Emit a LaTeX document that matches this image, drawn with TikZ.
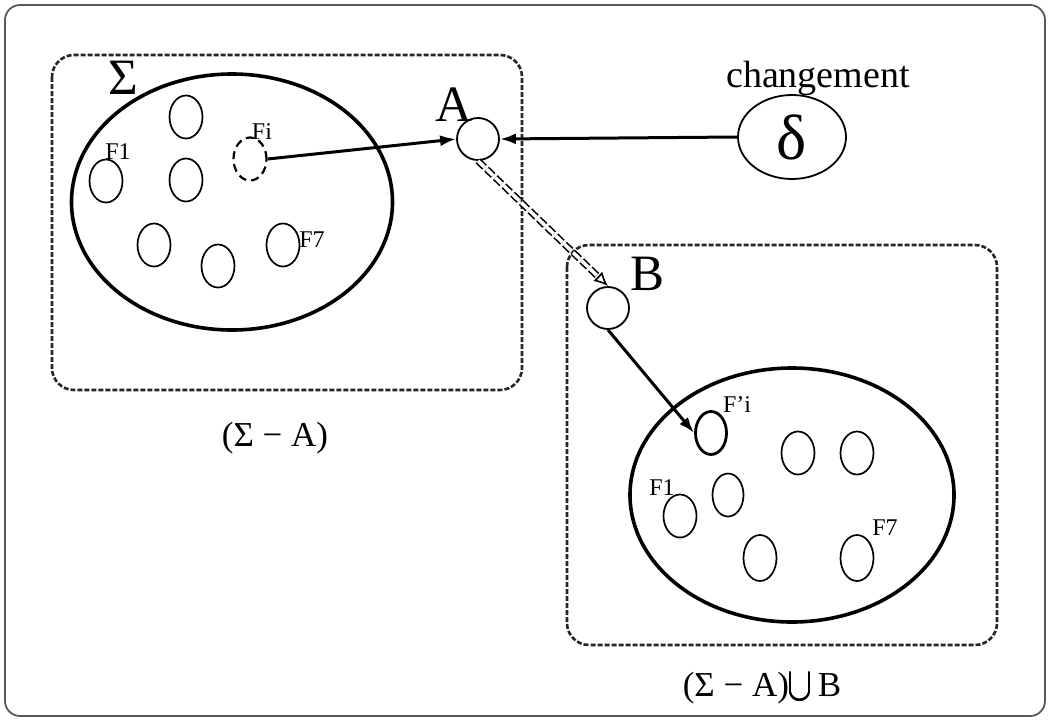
\documentclass[tikz,border=0pt]{standalone}
\usepackage{amsmath}
\usepackage{fontspec}
\setmainfont{Liberation Serif}
\usetikzlibrary{arrows.meta,shapes.geometric}
\tikzset{
  frame/.style={draw=black!65, line width=1.8pt, rounded corners=15pt},
  dbox/.style={draw=black!85, line width=2.6pt, dash pattern=on 5pt off 2pt, rounded corners=22pt},
  bigell/.style={ellipse, draw, line width=3.6pt, inner sep=0pt},
  smell/.style={ellipse, draw, line width=1.7pt, inner sep=0pt, minimum width=33pt, minimum height=43pt},
  circ/.style={circle, draw, line width=1.8pt, inner sep=0pt, minimum size=42pt},
  flab/.style={inner sep=0pt, font=\fontsize{24}{26}\selectfont},
  biglab/.style={inner sep=0pt, font=\fontsize{51}{53}\selectfont},
  caplab/.style={inner sep=0pt, font=\fontsize{35}{37}\selectfont},
  arr/.style={line width=3pt, -{Latex[length=16pt,width=11pt]}},
  hollow/.style={draw=black, line width=1.6pt, double=white, double distance=3.6pt, dash pattern=on 9pt off 3pt, -{Latex[open,length=14pt,width=13pt]}}
}
\begin{document}
\begin{tikzpicture}[x=1pt,y=-1pt]
\useasboundingbox (0,0) rectangle (1049,720);
\draw[frame] (5,5) rectangle (1045,716);
% left box
\draw[dbox] (52,55) rectangle (522,390);
\node[bigell, minimum width=321pt, minimum height=256pt] (sigma) at (232,202) {};
\node[biglab] (sigmalab) at (123,78) {Σ};
\node[smell] (l1) at (186,117) {};
\node[smell] (lf1) at (106,181) {};
\node[smell] (l2) at (186,180) {};
\node[smell, dash pattern=on 8pt off 5pt, line width=2.2pt] (lfi) at (250,159) {};
\node[smell] (l3) at (154,245) {};
\node[smell] (l4) at (218,266) {};
\node[smell] (lf7) at (283,245) {};
\node[flab] (tf1) at (118,152) {F1};
\node[flab] (tfi) at (262,132) {Fi};
\node[flab] (tf7) at (312,240) {F7};
% A
\node[circ] (A) at (478,139) {};
\node[biglab] (Alab) at (454,105) {A};
% delta
\node[ellipse, draw, line width=1.8pt, inner sep=0pt, minimum width=108pt, minimum height=84pt, font=\fontsize{64}{66}\selectfont] (delta) at (792,137) {δ};
\node[inner sep=0pt, font=\fontsize{38}{40}\selectfont] (chg) at (818,78) {changement};
% right box
\draw[dbox] (567,245) rectangle (997,645);
\node[bigell, minimum width=324pt, minimum height=254pt] (sigma2) at (792,495) {};
\node[circ] (B) at (608,308) {};
\node[biglab] (Blab) at (647,274) {B};
\node[smell, line width=2.8pt, minimum width=31pt] (rfi) at (711,433) {};
\node[smell] (r1) at (798,453) {};
\node[smell] (r2) at (857,453) {};
\node[smell, minimum width=31pt] (r3) at (728,495) {};
\node[smell] (rf1) at (680,516) {};
\node[smell, minimum height=46pt] (r4) at (760,558) {};
\node[smell, minimum height=46pt] (rf7) at (857,558) {};
\node[flab] (tpfi) at (737,405) {F’i};
\node[flab] (tpf1) at (662,488) {F1};
\node[flab] (tpf7) at (885,528) {F7};
% captions
\node[caplab] (cap1) at (275,438) {(Σ − A)};
\node[caplab] (cap2) at (762,687) {(Σ − A)\raisebox{5pt}{\fontsize{21}{23}\selectfont$\displaystyle\pmb{\bigcup}$}\,B};
% arrows
\draw[arr] (lfi.east) -- (A.west);
\draw[arr] (delta.west) -- (A.east);
\draw[hollow] (A.south) -- (B.north);
\draw[arr] (B.south) -- (rfi.west);
\end{tikzpicture}
\end{document}
